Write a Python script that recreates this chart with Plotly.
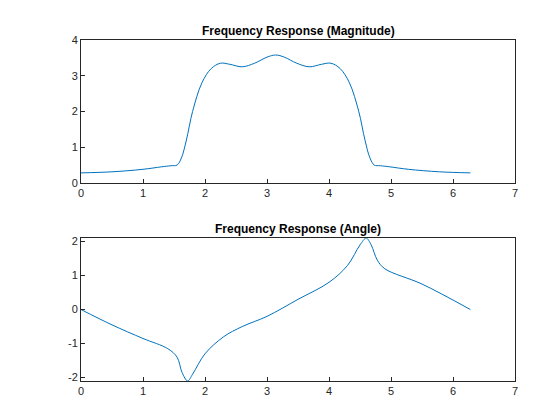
import plotly.graph_objects as go
from plotly.subplots import make_subplots

w_mag = [0, 0.5, 1.0, 1.3, 1.45, 1.55, 1.62, 1.7, 1.8, 1.95, 2.1, 2.25, 2.4, 2.6, 2.8, 3.0, 3.14,
         3.28, 3.48, 3.68, 3.88, 4.03, 4.18, 4.33, 4.48, 4.58, 4.66, 4.73, 4.83, 4.98, 5.28, 5.78, 6.28]
mag = [0.28, 0.31, 0.38, 0.45, 0.48, 0.5, 0.7, 1.2, 2.0, 2.8, 3.2, 3.35, 3.32, 3.25, 3.35, 3.52, 3.58,
       3.52, 3.35, 3.25, 3.32, 3.35, 3.2, 2.8, 2.0, 1.2, 0.7, 0.5, 0.48, 0.45, 0.38, 0.31, 0.28]

w_ang = [0, 0.5, 1.0, 1.4, 1.55, 1.63, 1.72, 1.8, 2.0, 2.3, 2.6, 3.0, 3.5, 4.0, 4.3, 4.5, 4.6, 4.68, 4.78, 4.9, 5.5, 6.28]
ang = [0, -0.45, -0.85, -1.15, -1.4, -1.85, -2.1, -1.9, -1.3, -0.8, -0.5, -0.2, 0.3, 0.8, 1.3, 1.9, 2.1, 1.9, 1.45, 1.2, 0.75, 0]

xticks = [0, 1, 2, 3, 4, 5, 6, 7]
ang_ticks = [-2, -1, 0, 1, 2]
ang_labels = ["-2", "-1", "0", "1", "2"]

fig = make_subplots(rows=2, cols=1, vertical_spacing=0.162)
color = "#0072BD"
fig.add_trace(go.Scatter(x=w_mag, y=mag, mode="lines", line=dict(color=color, width=1, shape="spline")), 1, 1)
fig.add_trace(go.Scatter(x=w_ang, y=ang, mode="lines", line=dict(color=color, width=1, shape="spline")), 2, 1)

ax = dict(showline=True, mirror=True, linecolor="#262626", linewidth=1, ticks="inside", ticklen=4,
          tickcolor="#262626", showgrid=False, zeroline=False, automargin=False,
          tickfont=dict(size=11, color="#262626", family="Arial"))
fig.update_xaxes(range=[0, 7], tickvals=xticks, **ax)
fig.update_yaxes(**ax)
fig.update_yaxes(range=[0, 4], tickvals=[0, 1, 2, 3, 4], row=1, col=1)
fig.update_yaxes(range=[-2.1, 2.1], tickvals=ang_ticks, ticktext=ang_labels, row=2, col=1)
fig.update_layout(width=560, height=420, margin=dict(l=73, r=53, t=32, b=47), showlegend=False,
                  plot_bgcolor="white", paper_bgcolor="white")
fig.layout.yaxis.domain = [0.581, 1]
fig.layout.yaxis2.domain = [0, 0.419]
for txt, y in [("Frequency Response (Magnitude)", 1.0), ("Frequency Response (Angle)", 0.419)]:
    fig.add_annotation(text="<b>" + txt + "</b>", x=0.5, y=y, xref="paper", yref="paper", yanchor="bottom",
                       showarrow=False, font=dict(size=12, family="Arial", color="black"))
fig.write_html("out.html")
